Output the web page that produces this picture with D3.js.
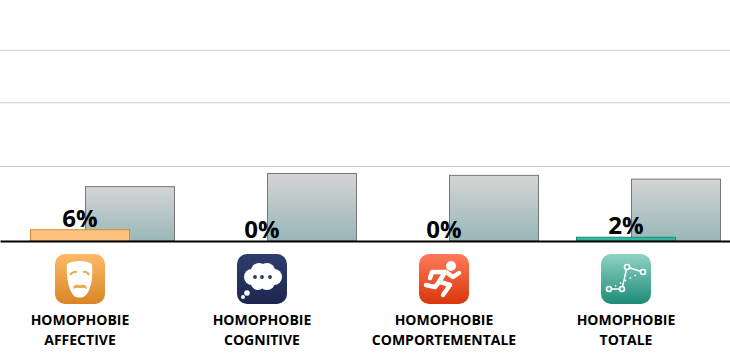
<!DOCTYPE html>
<html>
<head>
<meta charset="utf-8">
<title>Homophobie</title>
<script src="https://d3js.org/d3.v7.min.js"></script>
<style>
  html, body { margin: 0; padding: 0; background: #fff; }
  svg { display: block; }
  text { font-family: "Open Sans", sans-serif; font-weight: 700; fill: #000; }
</style>
</head>
<body>
<div id="display"></div>
<script>
var categories = ["affective", "cognitive", "comportementale", "totale"];
var labelLines = [
  ["HOMOPHOBIE", "AFFECTIVE"],
  ["HOMOPHOBIE", "COGNITIVE"],
  ["HOMOPHOBIE", "COMPORTEMENTALE"],
  ["HOMOPHOBIE", "TOTALE"]
];
var values = [6, 0, 0, 2];
var backValues = [29, 36, 35, 33];
var gridValues = [40, 74, 102];
var barFill = ["#fdc27f", "#2f3d70", "#e8502a", "#2fb9a0"];
var barStroke = ["#d88a2a", "#1d2650", "#d9360a", "#1f8a78"];
var iconTop = ["#fdb968", "#2e3c6e", "#ff7a58", "#8fd3c4"];
var iconBottom = ["#d98524", "#1d2650", "#d9360a", "#1f8a78"];

var width = 730, height = 360, baseY = 241;

var x = d3.scaleBand().domain(categories).range([-11, 717]);
var y = d3.scaleLinear().domain([0, 100]).range([baseY, baseY - 187.5]);

var svg = d3.select("#display").append("svg")
  .attr("width", width)
  .attr("height", height);

var defs = svg.append("defs");

var backGrad = defs.append("linearGradient")
  .attr("id", "backGrad")
  .attr("x1", 0).attr("y1", 0).attr("x2", 0).attr("y2", 1);
backGrad.append("stop").attr("offset", "0%").attr("stop-color", "#d4d4d4");
backGrad.append("stop").attr("offset", "100%").attr("stop-color", "#99b7b8");

categories.forEach(function(c, i) {
  var g = defs.append("linearGradient")
    .attr("id", "icon" + i)
    .attr("x1", 0).attr("y1", 0).attr("x2", 0).attr("y2", 1);
  g.append("stop").attr("offset", "0%").attr("stop-color", iconTop[i]);
  g.append("stop").attr("offset", "100%").attr("stop-color", iconBottom[i]);
});

// gridlines
var grid = svg.append("g")
  .call(d3.axisLeft(y).tickValues(gridValues).tickSize(-width).tickFormat(""));
grid.select(".domain").remove();
grid.selectAll("line").attr("stroke", "#cccccc");

function center(c) { return x(c) + x.bandwidth() / 2; }

// grey bars behind
svg.append("g").selectAll("rect")
  .data(categories)
  .enter().append("rect")
    .attr("x", function(d) { return center(d) + 5.5; })
    .attr("y", function(d, i) { return y(backValues[i]); })
    .attr("width", 89)
    .attr("height", function(d, i) { return y(0) - y(backValues[i]); })
    .attr("fill", "url(#backGrad)")
    .attr("stroke", "#777");

// value bars
svg.append("g").selectAll("rect")
  .data(categories)
  .enter().append("rect")
    .attr("x", function(d) { return center(d) - 49.5; })
    .attr("y", function(d, i) { return y(values[i]); })
    .attr("width", 99)
    .attr("height", function(d, i) { return y(0) - y(values[i]); })
    .attr("fill", function(d, i) { return barFill[i]; })
    .attr("stroke", function(d, i) { return values[i] > 0 ? barStroke[i] : "none"; });

// baseline
svg.append("g")
  .attr("transform", "translate(0," + baseY + ")")
  .call(d3.axisBottom(d3.scaleLinear().domain([0, 1]).range([0, width])).tickValues([]).tickSizeOuter(0))
  .select(".domain")
    .attr("stroke", "#000")
    .attr("stroke-width", 2);

// value labels
svg.append("g").selectAll("text")
  .data(categories)
  .enter().append("text")
    .attr("x", function(d) { return center(d); })
    .attr("y", function(d, i) { return y(values[i]) - 3; })
    .attr("text-anchor", "middle")
    .style("font-size", "24px")
    .text(function(d, i) { return values[i] + "%"; });

// category labels
var labels = svg.append("g").selectAll("text")
  .data(categories)
  .enter().append("text")
    .attr("text-anchor", "middle")
    .style("font-size", "14px");
labels.selectAll("tspan")
  .data(function(d, i) { return labelLines[i].map(function(t) { return {c: d, t: t}; }); })
  .enter().append("tspan")
    .attr("x", function(d) { return center(d.c); })
    .attr("y", function(d, i) { return 325 + i * 20; })
    .text(function(d) { return d.t; });

// icons
var icons = svg.append("g").selectAll("g")
  .data(categories)
  .enter().append("g")
    .attr("transform", function(d) { return "translate(" + (center(d) - 25) + ",254)"; });
icons.append("rect")
  .attr("width", 50)
  .attr("height", 50)
  .attr("rx", 10)
  .attr("fill", function(d, i) { return "url(#icon" + i + ")"; });

// mask
var mask = d3.select(icons.nodes()[0]);
mask.append("path")
  .attr("fill", "#fff")
  .attr("d", "M12 10C17 6 32 6 37 10C38 20 37 36 30 42C27 44 22 44 19 42C13 36 11 20 12 10Z");
mask.append("path")
  .attr("fill", "none").attr("stroke", "#f0a850").attr("stroke-width", 2)
  .attr("d", "M15 21Q18 17 22 18M28 18Q32 17 34 21");
mask.append("path")
  .attr("fill", "#f0a850")
  .attr("d", "M18 35Q18 30 25 31Q32 30 32 35Q28 33 25 34Q22 33 18 35Z");

// cloud
var cloud = d3.select(icons.nodes()[1]);
var puffs = [[15, 23, 8], [22, 17, 8], [30, 17, 8], [37, 23, 8], [30, 28, 8], [21, 29, 7]];
cloud.selectAll("circle.puff")
  .data(puffs)
  .enter().append("circle")
    .attr("class", "puff")
    .attr("cx", function(d) { return d[0]; })
    .attr("cy", function(d) { return d[1]; })
    .attr("r", function(d) { return d[2]; })
    .attr("fill", "#fff");
cloud.append("circle").attr("cx", 10).attr("cy", 39).attr("r", 2.8).attr("fill", "#fff");
cloud.append("circle").attr("cx", 6).attr("cy", 43).attr("r", 2).attr("fill", "#fff");
[18, 25, 33].forEach(function(cx) {
  cloud.append("circle").attr("cx", cx).attr("cy", 23).attr("r", 1.9).attr("fill", "#2a3768");
});

// runner
var runner = d3.select(icons.nodes()[2]);
runner.append("circle").attr("cx", 32).attr("cy", 12).attr("r", 5).attr("fill", "#fff");
runner.append("path")
  .attr("fill", "none").attr("stroke", "#fff").attr("stroke-width", 4.5)
  .attr("stroke-linecap", "round").attr("stroke-linejoin", "round")
  .attr("d", "M27 18L34 23L40 19M27 18L13 18L11 24M26 18L20 28L16 33L7 31M21 28L31 31L24 41");

// constellation
var stars = d3.select(icons.nodes()[3]);
stars.append("path")
  .attr("fill", "none").attr("stroke", "#fff").attr("stroke-width", 1.5)
  .attr("d", "M8 35L21 35L26 13L42 18");
stars.append("path")
  .attr("fill", "none").attr("stroke", "#fff").attr("stroke-width", 1.5)
  .attr("stroke-dasharray", "1.5 4")
  .attr("d", "M14 32L37 20");
[[8, 35], [21, 35], [26, 13], [42, 18]].forEach(function(p) {
  stars.append("circle")
    .attr("cx", p[0]).attr("cy", p[1]).attr("r", 2.5)
    .attr("fill", "#5fae9d").attr("stroke", "#fff").attr("stroke-width", 1.6);
});
</script>
</body>
</html>
